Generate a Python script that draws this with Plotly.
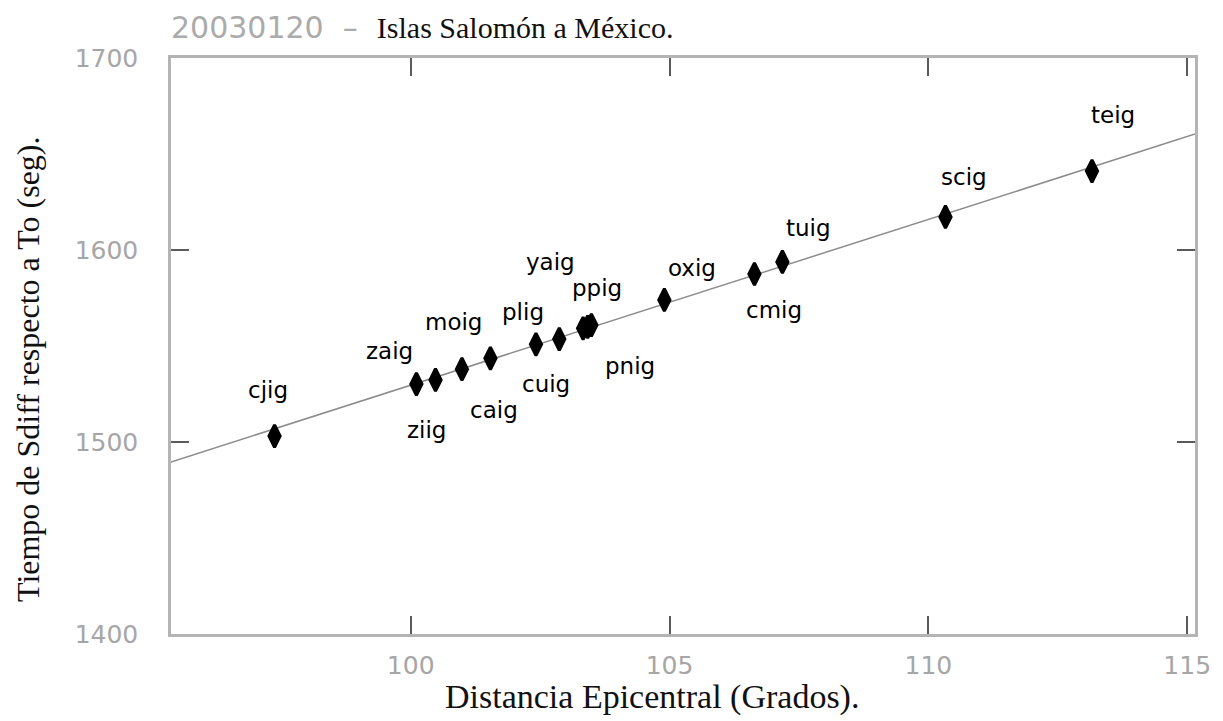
import plotly.graph_objects as go

# ---- data ----
stations = ["cjig", "zaig", "ziig", "moig", "caig", "plig", "cuig", "yaig",
            "ppig", "pnig", "oxig", "cmig", "tuig", "scig", "teig"]
distance = [97.37, 100.11, 100.48, 100.99, 101.54, 102.42, 102.87, 103.33,
            103.42, 103.49, 104.90, 106.64, 107.18, 110.33, 113.16]
sdiff_time = [1503.1, 1530.2, 1532.3, 1537.9, 1543.6, 1550.9, 1553.6, 1559.2,
              1560.0, 1560.9, 1574.0, 1587.5, 1593.8, 1617.2, 1641.1]

fit_x = [95.37, 115.15]
fit_y = [1489.6, 1660.4]

x_ticks = [100, 105, 110, 115]
y_ticks = [1400, 1500, 1600, 1700]

# label offsets in screen pixels (dx right, dy down) relative to each marker
label_dx = [-7, -27, -9, -8, 4, -13, -13, -33, 9, 39, 28, 20, 26, 19, 21]
label_dy = [-46, -33, 50, -47, 52, -32, 45, -66, -39, 41, -32, 36, -34, -40, -56]

AX_GRAY = "#b4b4b4"
TICK_GRAY = "#a6a6a6"
SERIF = "Liberation Serif, Times New Roman, serif"
SANS = "DejaVu Sans, sans-serif"

fig = go.Figure()

fig.add_trace(go.Scatter(
    x=fit_x, y=fit_y, mode="lines",
    line=dict(color="#8c8c8c", width=1.5),
    hoverinfo="skip", showlegend=False, cliponaxis=True,
))

fig.add_trace(go.Scatter(
    x=distance, y=sdiff_time, mode="markers",
    marker=dict(symbol="diamond-tall", size=16, color="black",
                line=dict(color="black", width=3)),
    text=stations, showlegend=False,
))

for name, xv, yv, dx, dy in zip(stations, distance, sdiff_time, label_dx, label_dy):
    fig.add_annotation(
        x=xv, y=yv, xref="x", yref="y", text=name, showarrow=False,
        xshift=dx, yshift=-dy, xanchor="center", yanchor="middle",
        font=dict(family=SANS, size=23, color="black"),
    )

# title
fig.add_annotation(
    xref="paper", yref="paper", x=0, y=1, xanchor="left", yanchor="bottom",
    xshift=-2, yshift=11, showarrow=False,
    text=("<span style='font-family:DejaVu Sans;color:#ababab;font-size:30px'>20030120  \u2013  </span>"
          "Islas Salomón a México."),
    font=dict(family=SERIF, size=30, color="#111111"),
)

# axis titles
fig.add_annotation(
    xref="paper", yref="paper", x=0.47, y=0, xanchor="center", yanchor="middle",
    yshift=-63, showarrow=False, text="Distancia Epicentral (Grados).",
    font=dict(family=SERIF, size=34, color="#111111"),
)
fig.add_annotation(
    xref="paper", yref="paper", x=0, y=0.46, xanchor="center", yanchor="middle",
    xshift=-143, showarrow=False, textangle=-90,
    text="Tiempo de Sdiff respecto a To (seg).",
    font=dict(family=SERIF, size=32, color="#111111"),
)

axis_common = dict(
    showgrid=False, zeroline=False, showline=True, linecolor=AX_GRAY, linewidth=2.5,
    mirror="ticks", ticks="inside", ticklen=18, tickwidth=2, tickcolor="#5a5a5a",
    tickfont=dict(family=SANS, size=25, color=TICK_GRAY),
)

fig.update_xaxes(range=[95.37, 115.15], tickvals=x_ticks,
                 ticktext=[str(v) for v in x_ticks], ticklabelstandoff=7,
                 **axis_common)
fig.update_yaxes(range=[1400, 1700], tickvals=y_ticks,
                 ticktext=[str(v) for v in y_ticks], ticklabelstandoff=25,
                 **axis_common)

fig.update_layout(
    width=1223, height=721,
    margin=dict(l=171, r=23, t=58, b=87),
    plot_bgcolor="white", paper_bgcolor="white",
    showlegend=False,
)

fig.write_html("out.html")
